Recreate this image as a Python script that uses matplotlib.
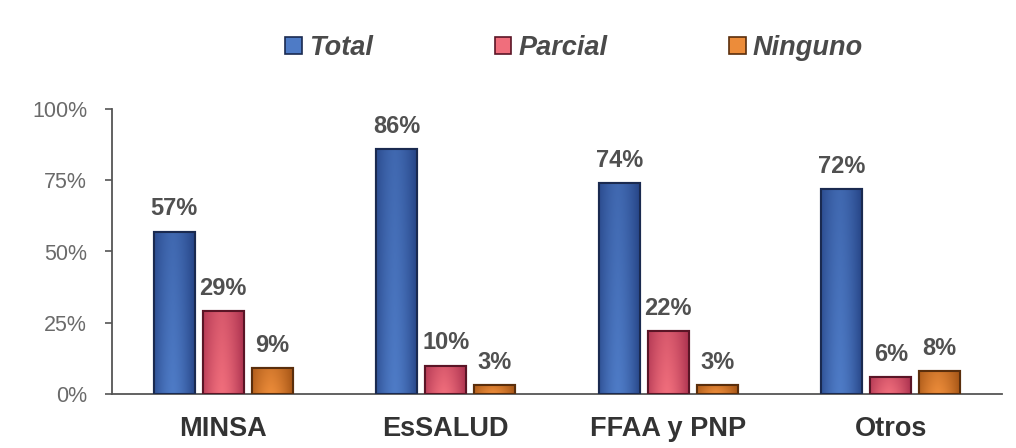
import numpy as np
import matplotlib
matplotlib.use("Agg")
import matplotlib.pyplot as plt
from matplotlib.colors import to_rgb
from matplotlib.patches import Patch

categories = ["MINSA", "EsSALUD", "FFAA y PNP", "Otros"]
series_names = ["Total", "Parcial", "Ninguno"]
total = [57, 86, 74, 72]
parcial = [29, 10, 22, 6]
ninguno = [9, 3, 3, 8]
yticks = [0, 25, 50, 75, 100]
ytick_labels = ["0%", "25%", "50%", "75%", "100%"]

series = [total, parcial, ninguno]
# (dark, light) colour pairs for gradients
palette = [("#203c7c", "#4e7bc6"), ("#a02848", "#f06e7c"), ("#9a4c10", "#ec8c3a")]
edges = ["#1a2a50", "#5a1526", "#5a2e0c"]

plt.rcParams["font.family"] = ["Liberation Sans", "DejaVu Sans"]

fig = plt.figure(figsize=(10.16, 4.48), dpi=100)
ax = fig.add_axes([112/1016, 1-394/448, (1002-112)/1016, (394-109)/448])

x = np.arange(len(categories))
width = 0.185
step = 0.22
offsets = [-step, 0, step]

def gradient_img(dark, light, n=64):
    d = np.array(to_rgb(dark)); l = np.array(to_rgb(light))
    u = np.linspace(0, 1, n)
    v = np.linspace(0, 1, n)
    U, V = np.meshgrid(u, v)
    h = 1 - np.abs(2*U - 0.9)**1.6
    h = np.clip(h, 0, 1)
    t = 0.25 + 0.75*h
    t = t * (0.7 + 0.3*(1 - V))  # V=0 bottom (origin lower)
    t = np.clip(t, 0, 1)[..., None]
    return d*(1-t) + l*t

handles = []
for i, (vals, (dk, lt), ec) in enumerate(zip(series, palette, edges)):
    bars = ax.bar(x + offsets[i], vals, width, color=lt, edgecolor=ec, linewidth=1.5, zorder=2)
    img = gradient_img(dk, lt)
    for b in bars:
        bx, by = b.get_x(), b.get_y()
        bw, bh = b.get_width(), b.get_height()
        im = ax.imshow(img, extent=(bx, bx+bw, by, by+bh), origin="lower",
                       aspect="auto", zorder=2.5, interpolation="bilinear")
        im.set_clip_path(b)
        rect = plt.Rectangle((bx, by), bw, bh, fill=False, edgecolor=ec, linewidth=1.5, zorder=3)
        ax.add_patch(rect)
        ax.annotate(f"{int(b.get_height())}%", (bx + bw/2, by + bh), xytext=(0, 8),
                    textcoords="offset points", ha="center", va="bottom",
                    fontsize=17, fontweight="bold", color="#505050")
    handles.append(Patch(facecolor=lt, edgecolor=ec, linewidth=1.2))

ax.set_xlim(-0.5, len(categories) - 0.5)
ax.set_ylim(0, 100)
ax.set_yticks(yticks)
ax.set_yticklabels(ytick_labels)
ax.set_xticks(x)
ax.set_xticklabels(categories, fontsize=19.5, fontweight="bold", color="#333333")
ax.tick_params(axis="x", length=0, pad=16)
ax.tick_params(axis="y", direction="out", length=5, width=1.2, color="#555555",
               labelsize=15.5, labelcolor="#6a6a6a", pad=13)
for s in ["top", "right"]:
    ax.spines[s].set_visible(False)
for s in ["left", "bottom"]:
    ax.spines[s].set_color("#555555")
    ax.spines[s].set_linewidth(1.3)

leg = fig.legend(handles, series_names, loc="center", bbox_to_anchor=(574/1016, 1-48/448),
                 ncol=3, frameon=False, handlelength=0.62, handleheight=0.55,
                 handletextpad=0.25, columnspacing=4.5,
                 prop={"size": 19.5, "weight": "bold", "style": "italic"})
for t in leg.get_texts():
    t.set_color("#4a4a4a")

fig.savefig("out.png", dpi=100)
